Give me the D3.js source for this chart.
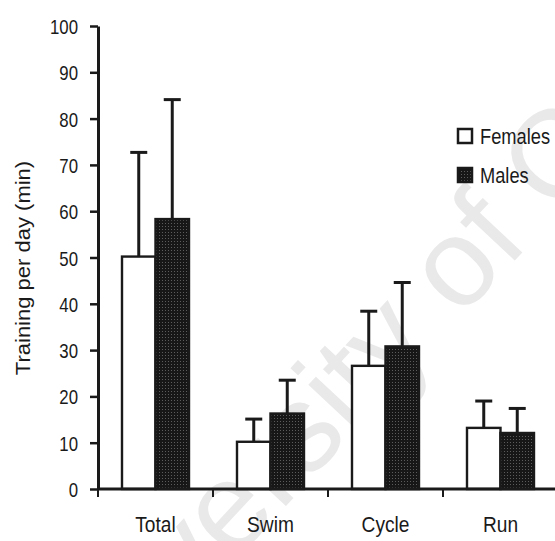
<!DOCTYPE html>
<html>
<head>
<meta charset="utf-8">
<script src="https://cdn.jsdelivr.net/npm/d3@7"></script>
<style>
  html, body { margin: 0; padding: 0; background: #fff; }
  svg { display: block; }
  text { font-family: "Liberation Sans", Arial, sans-serif; fill: #1a1a1a; }
</style>
</head>
<body>
<svg id="chart" width="555" height="541"></svg>
<script>
// Daily training time by discipline (mean + SD), females vs males
const categories = ["Total", "Swim", "Cycle", "Run"];
const series = ["Females", "Males"];
const femalesMean = [50.2, 10.2, 26.6, 13.2];
const femalesSD   = [22.5, 4.9, 11.8, 5.8];
const malesMean   = [58.3, 16.3, 30.8, 12.1];
const malesSD     = [25.8, 7.2, 13.8, 5.3];
const yTicks = [0, 10, 20, 30, 40, 50, 60, 70, 80, 90, 100];
const yLabel = "Training per day (min)";
const watermark = "University of Cape Town";

const svg = d3.select("#chart");
const ink = "#1a1a1a";

// squeeze text horizontally to the narrow typeface look
function condense(sel, k) {
  sel.each(function () {
    const w = this.getComputedTextLength();
    d3.select(this).attr("textLength", w * k).attr("lengthAdjust", "spacingAndGlyphs");
  });
}

// fine dotted dark fill for the male bars
const defs = svg.append("defs");
const pat = defs.append("pattern")
  .attr("id", "dark").attr("width", 3).attr("height", 3)
  .attr("patternUnits", "userSpaceOnUse");
pat.append("rect").attr("width", 3).attr("height", 3).attr("fill", "#171717");
pat.append("rect").attr("x", 1).attr("y", 1).attr("width", 1).attr("height", 1).attr("fill", "#5c5c5c");

// faint background watermark
svg.append("text")
  .attr("transform", "translate(62,746) rotate(-47)")
  .attr("font-size", 125)
  .style("fill", "#e9e9e9")
  .text(watermark);

const y = d3.scaleLinear().domain([0, 100]).range([489, 26]);
const x0 = d3.scaleBand().domain(categories).range([98, 558]).paddingInner(0).paddingOuter(0);
const groupW = 67;
const x1 = d3.scaleBand().domain(series).range([0, groupW]);
const off = (x0.bandwidth() - groupW) / 2;

const rows = categories.map((c, i) => ({
  cat: c,
  vals: [
    { s: "Females", m: femalesMean[i], sd: femalesSD[i] },
    { s: "Males", m: malesMean[i], sd: malesSD[i] }
  ]
}));

// bars
const g = svg.append("g");
const grp = g.selectAll("g.cat").data(rows).join("g")
  .attr("class", "cat")
  .attr("transform", d => `translate(${x0(d.cat) + off},0)`);

// error bars (upper only), drawn before bars so stems start at bar tops
grp.selectAll("g.err").data(d => d.vals).join("g").attr("class", "err")
  .each(function (d) {
    const cx = x1(d.s) + x1.bandwidth() / 2;
    const e = d3.select(this);
    e.append("line").attr("x1", cx).attr("x2", cx)
      .attr("y1", y(d.m)).attr("y2", y(d.m + d.sd))
      .attr("stroke", ink).attr("stroke-width", 3);
    e.append("line").attr("x1", cx - 8.5).attr("x2", cx + 8.5)
      .attr("y1", y(d.m + d.sd)).attr("y2", y(d.m + d.sd))
      .attr("stroke", ink).attr("stroke-width", 3);
  });

grp.selectAll("rect").data(d => d.vals).join("rect")
  .attr("x", d => x1(d.s))
  .attr("width", x1.bandwidth())
  .attr("y", d => y(d.m))
  .attr("height", d => y(0) - y(d.m))
  .attr("fill", d => d.s === "Females" ? "#fff" : "url(#dark)")
  .attr("stroke", ink)
  .attr("stroke-width", 2.4);

// y axis
const yAxis = svg.append("g").attr("transform", "translate(98,0)")
  .call(d3.axisLeft(y).tickValues(yTicks).tickSize(8).tickPadding(12).tickSizeOuter(0));
yAxis.select(".domain").attr("stroke", ink).attr("stroke-width", 3);
yAxis.selectAll(".tick line").attr("stroke", ink).attr("stroke-width", 2.5);
yAxis.selectAll(".tick text")
  .attr("font-size", 21).attr("font-family", null).style("fill", ink)
  .attr("dy", "0.36em").call(condense, 0.8);

// x axis
const xAxis = svg.append("g").attr("transform", "translate(0,489)");
xAxis.append("line").attr("x1", 98).attr("x2", 555).attr("y1", 0).attr("y2", 0)
  .attr("stroke", ink).attr("stroke-width", 3);
xAxis.selectAll("line.tk").data(categories.concat([null])).join("line").attr("class", "tk")
  .attr("x1", (d, i) => 98 + i * x0.bandwidth())
  .attr("x2", (d, i) => 98 + i * x0.bandwidth())
  .attr("y1", 0).attr("y2", 8)
  .attr("stroke", ink).attr("stroke-width", 2);
xAxis.selectAll("text.cat").data(categories).join("text").attr("class", "cat")
  .attr("x", d => x0(d) + x0.bandwidth() / 2)
  .attr("y", 43)
  .attr("text-anchor", "middle")
  .attr("font-size", 22)
  .text(d => d)
  .call(condense, 0.87);

// y axis title
svg.append("text")
  .attr("transform", "translate(30,268) rotate(-90)")
  .attr("text-anchor", "middle")
  .attr("font-size", 20)
  .text(yLabel)
  .call(condense, 1.1);

// legend
const leg = svg.append("g").attr("transform", "translate(457,128)");
series.forEach((s, i) => {
  const r = leg.append("g").attr("transform", `translate(0,${i * 39})`);
  r.append("rect").attr("x", 1).attr("y", 1).attr("width", 14).attr("height", 14)
    .attr("fill", s === "Females" ? "#fff" : "url(#dark)")
    .attr("stroke", ink).attr("stroke-width", 2.5);
  r.append("text").attr("x", 23).attr("y", 15.5)
    .attr("font-size", 22).text(s).call(condense, 0.83);
});
</script>
</body>
</html>
